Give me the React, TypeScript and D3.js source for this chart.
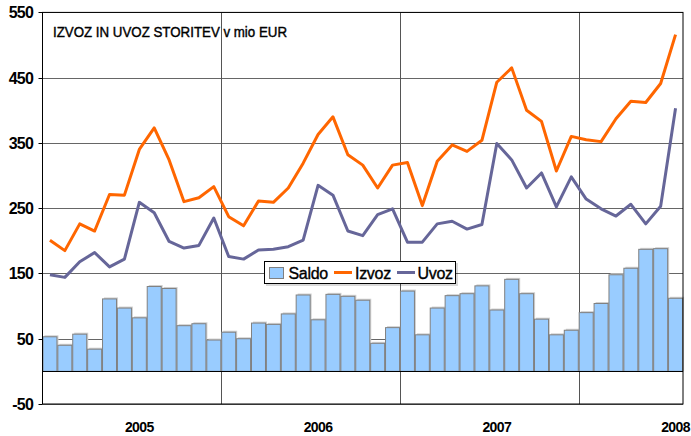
import React from "react";
import * as d3 from "d3";

const months = [
  "2005-01","2005-02","2005-03","2005-04","2005-05","2005-06","2005-07","2005-08","2005-09","2005-10","2005-11","2005-12",
  "2006-01","2006-02","2006-03","2006-04","2006-05","2006-06","2006-07","2006-08","2006-09","2006-10","2006-11","2006-12",
  "2007-01","2007-02","2007-03","2007-04","2007-05","2007-06","2007-07","2007-08","2007-09","2007-10","2007-11","2007-12",
  "2008-01","2008-02","2008-03","2008-04","2008-05","2008-06","2008-07",
];

const saldo = [
  53, 40, 57, 34, 111, 97, 82, 130, 127, 70, 73, 48,
  60, 50, 74, 72, 88, 117, 79, 118, 115, 109, 43, 67,
  123, 56, 97, 116, 119, 131, 94, 141, 119, 80, 56, 63,
  90, 104, 148, 158, 187, 188, 112,
];

const izvoz = [
  201, 185, 226, 215, 271, 270, 340, 373, 324, 260, 266, 283,
  237, 223, 261, 259, 281, 319, 363, 390, 332, 316, 281, 316,
  320, 254, 322, 347, 337, 354, 443, 465, 400, 383, 307, 360,
  355, 352, 387, 414, 412, 441, 516,
];

const uvoz = [
  148, 144, 168, 182, 160, 172, 259, 243, 199, 189, 193, 235,
  176, 172, 186, 187, 191, 201, 285, 270, 215, 208, 240, 249,
  198, 198, 226, 230, 218, 225, 349, 324, 281, 304, 252, 298,
  264, 249, 238, 256, 226, 253, 403,
];

const yTicks = [-50, 50, 150, 250, 350, 450, 550];
const yearLabels = ["2005", "2006", "2007", "2008"];
const yearLabelMonths = ["2005-07", "2006-07", "2007-07", "2008-07"];
const yearStarts = ["2006-01", "2007-01", "2008-01"];

const title = "IZVOZ IN UVOZ STORITEV v mio EUR";
const seriesNames = ["Saldo", "Izvoz", "Uvoz"];

export default function App() {
  const W = 691, H = 436;
  const left = 42.5, right = 683, top = 12.4, bottom = 404;
  const x = d3.scaleBand<string>().domain(months).range([left, right]).paddingInner(0.06).paddingOuter(0.03);
  const xs = d3.scaleBand<string>().domain(months).range([left, right]).padding(0);
  const y = d3.scaleLinear().domain([-50, 550]).range([bottom, top]);
  const cx = (m: string) => xs(m)! + xs.bandwidth() / 2;

  const line = d3.line<number>().x((_, i) => cx(months[i])).y((d) => y(d));

  const font = "Arial, 'Liberation Sans', sans-serif";
  return (
    <svg width={W} height={H} style={{ position: "absolute", left: 0, top: 0, background: "#fff" }}>
      <rect x={0} y={0} width={W} height={H} fill="#fff" />
      {/* horizontal grid */}
      {yTicks.map((t) => (
        <line key={t} x1={left} x2={right} y1={Math.round(y(t)) + 0.5} y2={Math.round(y(t)) + 0.5} stroke="#666" strokeWidth={1} />
      ))}
      {/* vertical year lines */}
      {yearStarts.map((m) => (
        <line key={m} x1={Math.round(xs(m)!) + 0.5} x2={Math.round(xs(m)!) + 0.5} y1={top} y2={bottom} stroke="#555" strokeWidth={1} />
      ))}
      {/* bars */}
      {saldo.map((v, i) => {
        const m = months[i];
        const bx = x(m)!;
        const y0 = y(0), y1 = y(v);
        return (
          <g key={m}>
            <rect x={bx + 1.5} y={y1 - 1.5} width={x.bandwidth()} height={y0 - y1 + 1.5} fill="#d0d0d0" />
            <rect x={bx} y={y1} width={x.bandwidth()} height={y0 - y1} fill="#99CCFF" stroke="#808080" strokeWidth={1} />
          </g>
        );
      })}
      {/* zero line */}
      <line x1={left} x2={right} y1={Math.round(y(0)) + 0.5} y2={Math.round(y(0)) + 0.5} stroke="#000" strokeWidth={1} />
      {/* lines */}
      <path d={line(uvoz)!} fill="none" stroke="#666699" strokeWidth={3} strokeLinejoin="round" />
      <path d={line(izvoz)!} fill="none" stroke="#FF6600" strokeWidth={3} strokeLinejoin="round" />
      {/* frame */}
      <rect x={left} y={top} width={right - left} height={bottom - top} fill="none" stroke="#000" strokeWidth={1} />
      {/* y ticks */}
      {yTicks.map((t) => (
        <g key={"l" + t}>
          <line x1={left - 4} x2={left} y1={Math.round(y(t)) + 0.5} y2={Math.round(y(t)) + 0.5} stroke="#000" />
          <text x={33} y={y(t) + 6} textAnchor="end" fontFamily={font} fontWeight="bold" fontSize={16} letterSpacing={-0.8} fill="#000">
            {t}
          </text>
        </g>
      ))}
      {/* x labels */}
      {yearLabels.map((lab, i) => (
        <text key={lab} x={cx(yearLabelMonths[i])} y={432} textAnchor="middle" fontFamily={font} fontWeight="bold" fontSize={14} letterSpacing={-0.6} fill="#000">
          {lab}
        </text>
      ))}
      {/* title */}
      <text x={53} y={37.3} fontFamily={font} fontSize={14} textLength={234} lengthAdjust="spacingAndGlyphs" fill="#000" stroke="#000" strokeWidth={0.4}>
        {title}
      </text>
      {/* legend */}
      <g fontFamily={font} fontSize={16} fill="#000" stroke="#000" strokeWidth={0.35} letterSpacing={-0.3}>
        <rect x={266} y={263} width={192} height={23} fill="#000" stroke="none" opacity={0.15} />
        <rect x={264.5} y={261.5} width={191} height={22} fill="#fff" stroke="#000" strokeWidth={1} />
        <rect x={269.5} y={267.5} width={14} height={11} fill="#99CCFF" stroke="#808080" strokeWidth={1} />
        <text x={288.5} y={279}>{seriesNames[0]}</text>
        <line x1={334} x2={352} y1={272.5} y2={272.5} stroke="#FF6600" strokeWidth={3} />
        <text x={355} y={279}>{seriesNames[1]}</text>
        <line x1={397} x2={415} y1={272.5} y2={272.5} stroke="#666699" strokeWidth={3} />
        <text x={417.5} y={279}>{seriesNames[2]}</text>
      </g>
    </svg>
  );
}
